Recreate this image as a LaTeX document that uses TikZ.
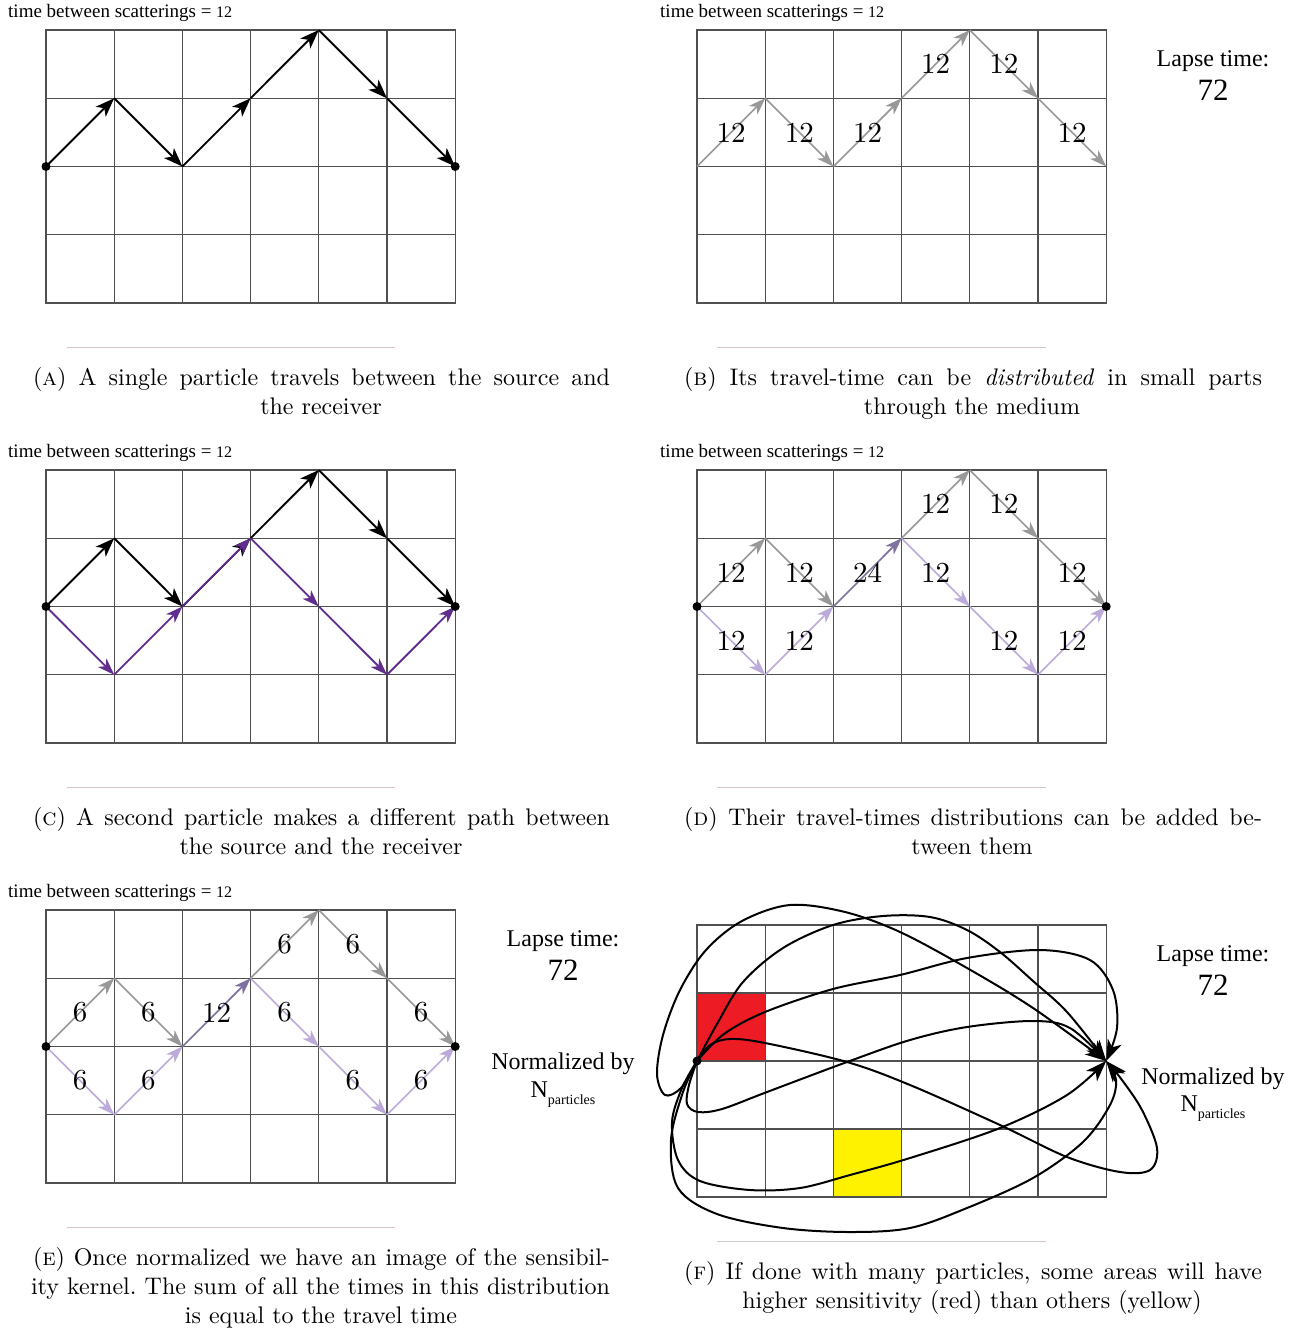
\documentclass[tikz,border=0pt]{standalone}
\usepackage{fontspec}
\setmainfont{lmroman10-regular.otf}[ItalicFont=lmroman10-italic.otf, BoldFont=lmroman10-bold.otf, SmallCapsFont=lmromancaps10-regular.otf]
\newfontfamily\libser{Liberation Serif}
\usetikzlibrary{arrows.meta}
\definecolor{gridc}{RGB}{80,80,80}
\definecolor{arrg}{RGB}{152,152,152}
\definecolor{lav}{RGB}{188,170,218}
\definecolor{purp}{RGB}{98,46,142}
\definecolor{mixc}{RGB}{128,114,158}
\definecolor{sepc}{RGB}{215,195,205}
\definecolor{redc}{RGB}{237,28,36}
\definecolor{yelc}{RGB}{255,242,0}
\tikzset{
  gridline/.style={draw=gridc, line width=1.2pt, line cap=rect},
  blk/.style={draw=black, line width=1.9pt, -{Stealth[length=19pt,width=14pt,inset=5pt]}},
  gra/.style={draw=arrg, color=arrg, line width=1.6pt, -{Stealth[length=17pt,width=12pt,inset=5pt]}},
  pur/.style={draw=purp, color=purp, line width=1.8pt, -{Stealth[length=17pt,width=12pt,inset=5pt]}},
  lavs/.style={draw=lav, color=lav, line width=1.6pt, -{Stealth[length=17pt,width=12pt,inset=5pt]}},
  mixs/.style={draw=mixc, color=mixc, line width=1.6pt, -{Stealth[length=17pt,width=12pt,inset=5pt]}},
  fcurve/.style={draw=black, line width=2pt, -{Stealth[length=21pt,width=15pt,inset=6pt]}},
  num/.style={font=\fontsize{29}{29}\selectfont, inner sep=0pt, text=black},
  dot/.style={circle, fill=black, inner sep=0pt, minimum size=9pt},
  ttl/.style={font=\libser\fontsize{19}{21}\selectfont, inner sep=0pt, anchor=base west},
  lab/.style={font=\libser\fontsize{24}{26}\selectfont, inner sep=0pt, anchor=base},
  big/.style={font=\libser\fontsize{31}{32}\selectfont, inner sep=0pt, anchor=base},
  capf/.style={font=\fontsize{24}{29}\selectfont, inner sep=0pt, anchor=base},
  sep/.style={draw=sepc, line width=1pt},
}
\newcommand\mkgrid[4]{%
  \foreach \i in {0,...,6}{\foreach \j in {0,...,4}{%
    \coordinate (#1-\i-\j) at ({#2+68.2*\i},{#3+#4*\j});}}%
  \foreach \i in {0,...,6}{\draw[gridline] (#1-\i-0) -- (#1-\i-4);}%
  \foreach \j in {0,...,4}{\draw[gridline] (#1-0-\j) -- (#1-6-\j);}%
}
\newcommand\seg[3]{\draw[#1] (#2) -- (#3);}
\newcommand\segl[4]{\draw[#1] (#2) -- node[num] {#4} (#3);}
\newcommand\ttlnum{{\fontsize{16}{16}\selectfont 12}}
\begin{document}
\begin{tikzpicture}[x=1pt, y=-1pt]
\fill[white] (0,0) rectangle (1308,1328);
\useasboundingbox (0,0) rectangle (1308,1328);

% ---------------- Panel A ----------------
\node[ttl] (A-title) at (8,17) {time between scatterings = \ttlnum};
\mkgrid{A}{46}{30}{68.25}
\seg{blk}{A-0-2}{A-1-1}
\seg{blk}{A-1-1}{A-2-2}
\seg{blk}{A-2-2}{A-3-1}
\seg{blk}{A-3-1}{A-4-0}
\seg{blk}{A-4-0}{A-5-1}
\seg{blk}{A-5-1}{A-6-2}
\node[dot] (A-src) at (A-0-2) {};
\node[dot] (A-rcv) at (A-6-2) {};
\draw[sep] (67,347) -- (395,347);
\node[capf] (A-cap1) at (321.5,385) {\makebox[577pt][s]{(\textsc{a}) A single particle travels between the source and}};
\node[capf] (A-cap2) at (321,414) {the receiver};

% ---------------- Panel B ----------------
\node[ttl] (B-title) at (660,17) {time between scatterings = \ttlnum};
\mkgrid{B}{697}{30}{68.25}
\segl{gra}{B-0-2}{B-1-1}{12}
\segl{gra}{B-1-1}{B-2-2}{12}
\segl{gra}{B-2-2}{B-3-1}{12}
\segl{gra}{B-3-1}{B-4-0}{12}
\segl{gra}{B-4-0}{B-5-1}{12}
\segl{gra}{B-5-1}{B-6-2}{12}
\node[lab] (B-lapse) at (1213,66) {Lapse time:};
\node[big] (B-72) at (1213,100) {72};
\draw[sep] (717,347) -- (1046,347);
\node[capf] (B-cap1) at (973,385) {\makebox[578pt][s]{(\textsc{b}) Its travel-time can be \emph{distributed} in small parts}};
\node[capf] (B-cap2) at (972,414) {through the medium};

% ---------------- Panel C ----------------
\node[ttl] (C-title) at (8,457) {time between scatterings = \ttlnum};
\mkgrid{C}{46}{470}{68.25}
\seg{blk}{C-0-2}{C-1-1}
\seg{blk}{C-1-1}{C-2-2}
\seg{blk}{C-2-2}{C-3-1}
\seg{blk}{C-3-1}{C-4-0}
\seg{blk}{C-4-0}{C-5-1}
\seg{blk}{C-5-1}{C-6-2}
\seg{pur}{C-0-2}{C-1-3}
\seg{pur}{C-1-3}{C-2-2}
\seg{pur}{C-2-2}{C-3-1}
\seg{pur}{C-3-1}{C-4-2}
\seg{pur}{C-4-2}{C-5-3}
\seg{pur}{C-5-3}{C-6-2}
\node[dot] (C-src) at (C-0-2) {};
\node[dot] (C-rcv) at (C-6-2) {};
\draw[sep] (67,787) -- (395,787);
\node[capf] (C-cap1) at (321.5,825) {\makebox[577pt][s]{(\textsc{c}) A second particle makes a different path between}};
\node[capf] (C-cap2) at (321,854) {the source and the receiver};

% ---------------- Panel D ----------------
\node[ttl] (D-title) at (660,457) {time between scatterings = \ttlnum};
\mkgrid{D}{697}{470}{68.25}
\segl{gra}{D-0-2}{D-1-1}{12}
\segl{gra}{D-1-1}{D-2-2}{12}
\segl{gra}{D-3-1}{D-4-0}{12}
\segl{gra}{D-4-0}{D-5-1}{12}
\segl{gra}{D-5-1}{D-6-2}{12}
\segl{lavs}{D-0-2}{D-1-3}{12}
\segl{lavs}{D-1-3}{D-2-2}{12}
\segl{lavs}{D-3-1}{D-4-2}{12}
\segl{lavs}{D-4-2}{D-5-3}{12}
\segl{lavs}{D-5-3}{D-6-2}{12}
\segl{mixs}{D-2-2}{D-3-1}{24}
\node[dot] (D-src) at (D-0-2) {};
\node[dot] (D-rcv) at (D-6-2) {};
\draw[sep] (717,787) -- (1046,787);
\node[capf] (D-cap1) at (973,825) {\makebox[578pt][s]{(\textsc{d}) Their travel-times distributions can be added be-}};
\node[capf] (D-cap2) at (972,854) {tween them};

% ---------------- Panel E ----------------
\node[ttl] (E-title) at (8,897) {time between scatterings = \ttlnum};
\mkgrid{E}{46}{910}{68.25}
\segl{gra}{E-0-2}{E-1-1}{6}
\segl{gra}{E-1-1}{E-2-2}{6}
\segl{gra}{E-3-1}{E-4-0}{6}
\segl{gra}{E-4-0}{E-5-1}{6}
\segl{gra}{E-5-1}{E-6-2}{6}
\segl{lavs}{E-0-2}{E-1-3}{6}
\segl{lavs}{E-1-3}{E-2-2}{6}
\segl{lavs}{E-3-1}{E-4-2}{6}
\segl{lavs}{E-4-2}{E-5-3}{6}
\segl{lavs}{E-5-3}{E-6-2}{6}
\segl{mixs}{E-2-2}{E-3-1}{12}
\node[dot] (E-src) at (E-0-2) {};
\node[dot] (E-rcv) at (E-6-2) {};
\node[lab] (E-lapse) at (563,946) {Lapse time:};
\node[big] (E-72) at (563,980) {72};
\node[lab] (E-norm) at (563,1069) {Normalized by};
\node[lab] (E-np) at (563,1097) {N\raisebox{-7pt}{\fontsize{14}{14}\selectfont particles}};
\draw[sep] (67,1227) -- (395,1227);
\node[capf] (E-cap1) at (321.5,1265) {\makebox[577pt][s]{(\textsc{e}) Once normalized we have an image of the sensibil-}};
\node[capf] (E-cap2) at (320.5,1294) {\makebox[579pt][s]{ity kernel.\ The sum of all the times in this distribution}};
\node[capf] (E-cap3) at (321,1323) {is equal to the travel time};

% ---------------- Panel F ----------------
\fill[redc] (697,993) rectangle (765.2,1061);
\fill[yelc] (833.4,1129) rectangle (901.6,1197);
\mkgrid{F}{697}{925}{68}
\draw[fcurve] plot[smooth, tension=0.55] coordinates {(F-0-2) (681,1088) (665,1095) (657,1074) (663,1035) (680,990) (706,950) (742,921) (790,905) (845,912) (900,932) (967,968) (1033,1008) (F-6-2)};
\draw[fcurve] plot[smooth, tension=0.55] coordinates {(F-0-2) (717,1024) (743,982) (783,948) (833,925) (883,916) (930,917) (967,930) (1000,952) (1033,981) (1067,1012) (F-6-2)};
\draw[fcurve] plot[smooth, tension=0.55] coordinates {(F-0-2) (724,1034) (765,1012) (833,989) (900,975) (967,958) (1040,950) (1090,960) (1113,990) (1117,1028) (F-6-2)};
\draw[fcurve] plot[smooth, tension=0.55] coordinates {(F-0-2) (689,1085) (687,1104) (698,1112) (722,1109) (767,1092) (847,1062) (910,1040) (967,1027) (1033,1021) (1070,1028) (F-6-2)};
\draw[fcurve] plot[smooth, tension=0.55] coordinates {(F-0-2) (710,1045) (730,1039) (765,1043) (847,1062) (910,1085) (1000,1125) (1067,1157) (1120,1172) (1150,1170) (1157,1148) (1142,1110) (1122,1080) (F-6-2)};
\draw[fcurve] plot[smooth, tension=0.55] coordinates {(F-0-2) (682,1088) (672,1122) (678,1160) (700,1181) (750,1190) (800,1188) (850,1175) (910,1158) (1000,1128) (1067,1095) (F-6-2)};
\draw[fcurve] plot[smooth, tension=0.55] coordinates {(F-0-2) (683,1092) (671,1140) (678,1188) (717,1214) (783,1228) (850,1232) (910,1228) (967,1208) (1033,1178) (1083,1142) (1110,1105) (1116,1080) (F-6-2)};
\node[dot] (F-src) at (F-0-2) {};
\node[lab] (F-lapse) at (1213,961) {Lapse time:};
\node[big] (F-72) at (1213,995) {72};
\node[lab] (F-norm) at (1213,1084) {Normalized by};
\node[lab] (F-np) at (1213,1111) {N\raisebox{-7pt}{\fontsize{14}{14}\selectfont particles}};
\draw[sep] (717,1241) -- (1046,1241);
\node[capf] (F-cap1) at (973,1279) {\makebox[578pt][s]{(\textsc{f}) If done with many particles, some areas will have}};
\node[capf] (F-cap2) at (972,1308) {higher sensitivity (red) than others (yellow)};
\end{tikzpicture}
\end{document}
